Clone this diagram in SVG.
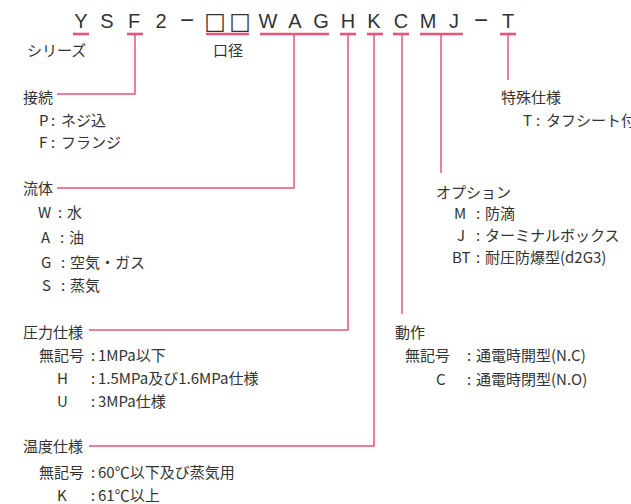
<svg xmlns="http://www.w3.org/2000/svg" width="631" height="504" viewBox="0 0 631 504">
<style>
  .code{font-family:"Liberation Sans","DejaVu Sans",sans-serif;font-size:20px;fill:#333;text-anchor:middle}
  .sq{font-family:"DejaVu Sans",sans-serif;font-size:23px;fill:#333;text-anchor:middle}
  .t{font-family:"Noto Sans CJK JP",sans-serif;font-size:15px;fill:#333}
  .ul{stroke:#e5567a;stroke-width:2.6;fill:none}
  .ln{stroke:#e5567a;stroke-width:1.5;fill:none}
</style>
<rect width="631" height="504" fill="#fff"/>
<g id="code">
  <text class="code" x="81" y="28">Y</text>
  <text class="code" x="107" y="28">S</text>
  <text class="code" x="134" y="28">F</text>
  <text class="code" x="161" y="28">2</text>
  <text class="code" x="187" y="28" style="font-size:24px">−</text>
  <text class="sq" x="215" y="29">□</text>
  <text class="sq" x="240" y="29">□</text>
  <text class="code" x="268" y="28">W</text>
  <text class="code" x="295" y="28">A</text>
  <text class="code" x="321" y="28">G</text>
  <text class="code" x="348" y="28">H</text>
  <text class="code" x="374" y="28">K</text>
  <text class="code" x="401" y="28">C</text>
  <text class="code" x="428" y="28">M</text>
  <text class="code" x="454" y="28">J</text>
  <text class="code" x="481" y="28" style="font-size:24px">−</text>
  <text class="code" x="508" y="28">T</text>
</g>
<g id="connectors">
  <line class="ul" x1="73" y1="34" x2="89" y2="34"/>
  <line class="ul" x1="127" y1="34" x2="143" y2="34"/>
  <line class="ul" x1="206" y1="34" x2="249" y2="34"/>
  <line class="ul" x1="260" y1="34" x2="329" y2="34"/>
  <line class="ul" x1="340" y1="34" x2="356" y2="34"/>
  <line class="ul" x1="367" y1="34" x2="383" y2="34"/>
  <line class="ul" x1="393" y1="34" x2="409" y2="34"/>
  <line class="ul" x1="420" y1="34" x2="463" y2="34"/>
  <line class="ul" x1="500" y1="34" x2="516" y2="34"/>
  <polyline class="ln" points="135,34 135,94 57,94"/>
  <polyline class="ln" points="294,34 294,188 57,188"/>
  <polyline class="ln" points="348,34 348,330 89,330"/>
  <polyline class="ln" points="374,34 374,446 89,446"/>
  <line class="ln" x1="402" y1="34" x2="402" y2="314"/>
  <line class="ln" x1="441" y1="34" x2="441" y2="173"/>
  <line class="ln" x1="508" y1="34" x2="508" y2="80"/>
</g>
<g id="series"><text class="t" x="27" y="55.5">シリーズ</text></g>
<g id="bore"><text class="t" x="213" y="55.5">口径</text></g>
<g id="connection">
  <text class="t" x="23" y="102.5">接続</text>
  <text class="t" y="125.5"><tspan x="39">P</tspan><tspan x="51">:</tspan><tspan x="61">ネジ込</tspan></text>
  <text class="t" y="148"><tspan x="39">F</tspan><tspan x="51">:</tspan><tspan x="61">フランジ</tspan></text>
</g>
<g id="fluid">
  <text class="t" x="23" y="193.5">流体</text>
  <text class="t" y="217.5"><tspan x="38">W</tspan><tspan x="58">:</tspan><tspan x="67">水</tspan></text>
  <text class="t" y="242.5"><tspan x="41">A</tspan><tspan x="60">:</tspan><tspan x="69">油</tspan></text>
  <text class="t" y="267.5"><tspan x="41">G</tspan><tspan x="61">:</tspan><tspan x="70">空気・ガス</tspan></text>
  <text class="t" y="290.5"><tspan x="42">S</tspan><tspan x="61">:</tspan><tspan x="70">蒸気</tspan></text>
</g>
<g id="pressure">
  <text class="t" x="23" y="337.5">圧力仕様</text>
  <text class="t" y="360.5"><tspan x="39">無記号</tspan><tspan x="91">:</tspan><tspan x="98">1MPa以下</tspan></text>
  <text class="t" y="383.5"><tspan x="57">H</tspan><tspan x="91">:</tspan><tspan x="98">1.5MPa及び1.6MPa仕様</tspan></text>
  <text class="t" y="406.5"><tspan x="57">U</tspan><tspan x="91">:</tspan><tspan x="98">3MPa仕様</tspan></text>
</g>
<g id="temperature">
  <text class="t" x="23" y="452">温度仕様</text>
  <text class="t" y="477.5"><tspan x="39">無記号</tspan><tspan x="91">:</tspan><tspan x="98">60℃以下及び蒸気用</tspan></text>
  <text class="t" y="500.5"><tspan x="57">K</tspan><tspan x="91">:</tspan><tspan x="98">61℃以上</tspan></text>
</g>
<g id="special">
  <text class="t" x="501" y="102.5">特殊仕様</text>
  <text class="t" y="125.5"><tspan x="523">T</tspan><tspan x="536">:</tspan><tspan x="546">タフシート付</tspan></text>
</g>
<g id="option">
  <text class="t" x="436" y="197.5">オプション</text>
  <text class="t" y="218.5"><tspan x="454">M</tspan><tspan x="476">:</tspan><tspan x="485">防滴</tspan></text>
  <text class="t" y="240.5"><tspan x="457">J</tspan><tspan x="476">:</tspan><tspan x="485">ターミナルボックス</tspan></text>
  <text class="t" y="263"><tspan x="452">BT</tspan><tspan x="476">:</tspan><tspan x="485">耐圧防爆型(d2G3)</tspan></text>
</g>
<g id="action">
  <text class="t" x="395" y="338">動作</text>
  <text class="t" y="361"><tspan x="405">無記号</tspan><tspan x="467">:</tspan><tspan x="476">通電時開型(N.C)</tspan></text>
  <text class="t" y="384.5"><tspan x="436">C</tspan><tspan x="467">:</tspan><tspan x="476">通電時閉型(N.O)</tspan></text>
</g>
</svg>
